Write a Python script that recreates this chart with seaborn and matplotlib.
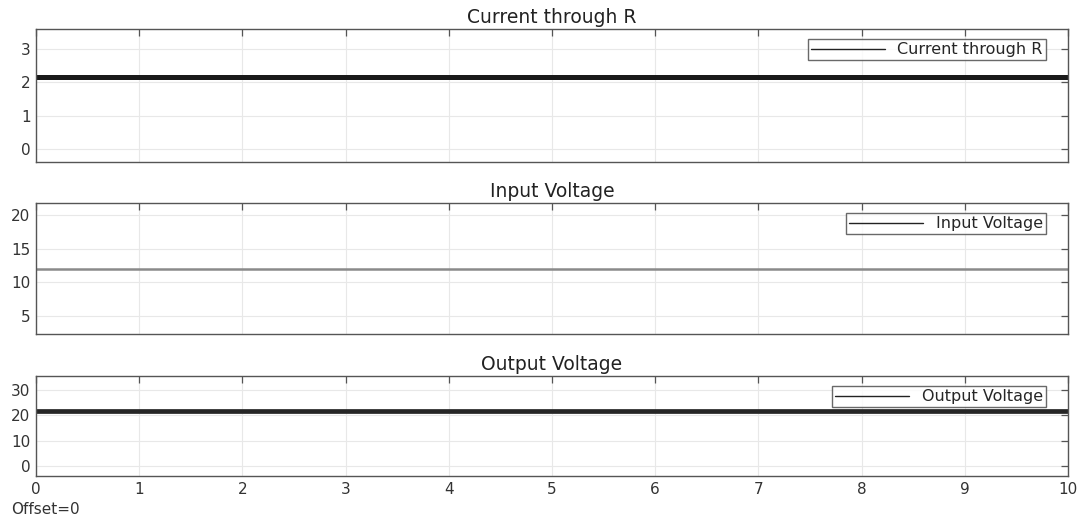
import pandas as pd
import matplotlib.pyplot as plt
import seaborn as sns
import numpy as np
from matplotlib.lines import Line2D

sns.set_theme(style="whitegrid")
plt.rcParams['font.family'] = ['DejaVu Sans']

time_s = [0, 1, 2, 3, 4, 5, 6, 7, 8, 9, 10]
current_r = [2.17, 2.17, 2.17, 2.17, 2.17, 2.17, 2.17, 2.17, 2.17, 2.17, 2.17]
input_v = [12, 12, 12, 12, 12, 12, 12, 12, 12, 12, 12]
output_v = [21.5, 21.5, 21.5, 21.5, 21.5, 21.5, 21.5, 21.5, 21.5, 21.5, 21.5]

W, H = 1080, 522
# (top px, bottom px) of each panel in the reference
panel_px = [(29, 162), (203, 334), (376, 476)]

panels = [
    ('Current through R', current_r, (-0.38, 3.6), [0, 1, 2, 3], '#1a1a1a', 3.6),
    ('Input Voltage', input_v, (2.33, 21.8), [5, 10, 15, 20], '#8a8a8a', 1.8),
    ('Output Voltage', output_v, (-3.95, 35.5), [0, 10, 20, 30], '#262626', 3.4),
]

fig = plt.figure(figsize=(10.8, 5.22), dpi=100)
axes = []
for top, bot in panel_px:
    ax = fig.add_axes([36 / W, 1 - bot / H, 1032 / W, (bot - top) / H])
    axes.append(ax)

for i, (ax, (name, vals, ylim, yticks, color, lw)) in enumerate(zip(axes, panels)):
    df = pd.DataFrame({'t': time_s, 'v': vals})
    sns.lineplot(data=df, x='t', y='v', ax=ax, color=color, linewidth=lw)
    ax.set_xlim(0, 10)
    ax.set_ylim(*ylim)
    ax.set_yticks(yticks)
    ax.set_xticks(range(11))
    if i < 2:
        ax.tick_params(labelbottom=False)
    ax.set_title(name, fontsize=13.5, color='#222222', pad=4)
    ax.set_xlabel('')
    ax.set_ylabel('')
    ax.set_facecolor('white')
    ax.grid(True, color='#e8e8e8', linewidth=0.8)
    for s in ax.spines.values():
        s.set_visible(True)
        s.set_color('#555555')
        s.set_linewidth(1.0)
    ax.tick_params(direction='in', length=5, width=0.9, color='#555555',
                   top=True, right=True, labelsize=11, labelcolor='#333333', pad=4)
    h_px = panel_px[i][1] - panel_px[i][0]
    h = Line2D([0], [0], color='#222222', linewidth=1.0)
    leg = ax.legend([h], [name], loc='upper right', fontsize=11.5, frameon=True,
                    fancybox=False, handlelength=4.6, borderaxespad=0,
                    bbox_to_anchor=(1 - 22 / 1032, 1 - 10 / h_px),
                    borderpad=0.2, edgecolor='#444444')
    leg.get_frame().set_linewidth(1.0)

fig.text(0.01, 1 - 510 / H, 'Offset=0', fontsize=11, color='#333333', va='center')

plt.savefig('out.png', dpi=100)
